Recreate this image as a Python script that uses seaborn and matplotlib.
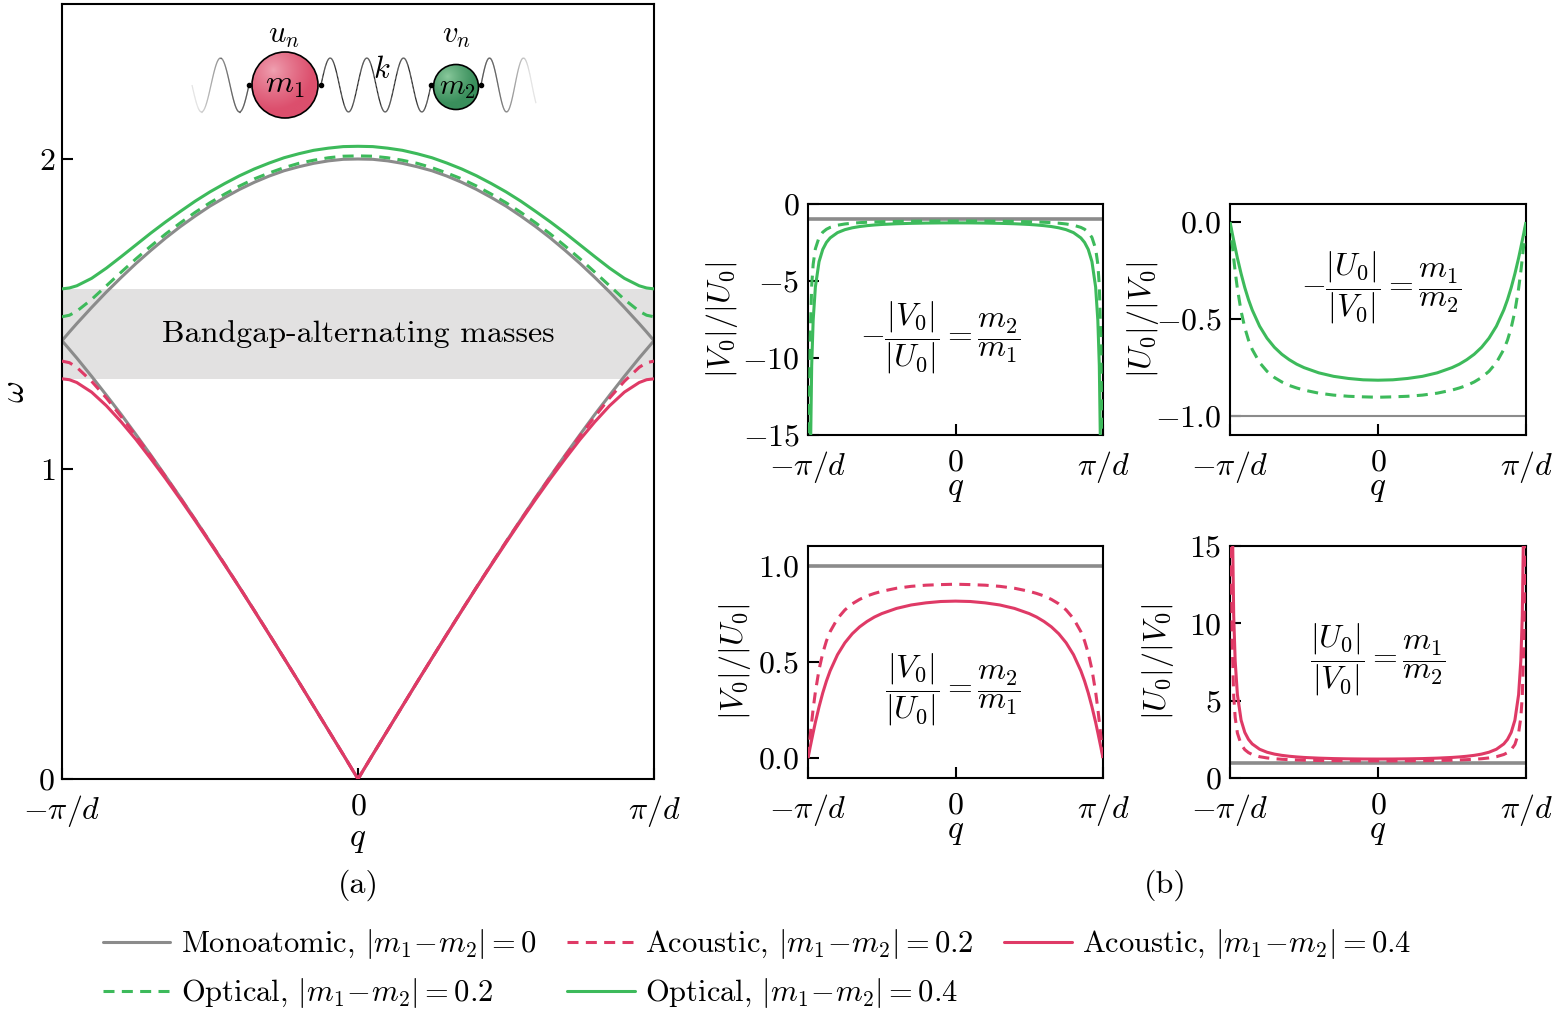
import numpy as np
import matplotlib
matplotlib.use("Agg")
import matplotlib.pyplot as plt
import seaborn as sns
from matplotlib.collections import LineCollection
from matplotlib.patches import Circle
from matplotlib.lines import Line2D
from matplotlib.colors import to_rgb

# ---------------- data ----------------
q_disp = [-1, -0.975, -0.95, -0.9, -0.85, -0.8, -0.75, -0.7, -0.65, -0.6, -0.55, -0.5,
          -0.45, -0.4, -0.35, -0.3, -0.25, -0.2, -0.15, -0.1, -0.05, 0, 0.05, 0.1, 0.15,
          0.2, 0.25, 0.3, 0.35, 0.4, 0.45, 0.5, 0.55, 0.6, 0.65, 0.7, 0.75, 0.8, 0.85,
          0.9, 0.95, 0.975, 1]
mono_ac = [1.414, 1.386, 1.358, 1.299, 1.238, 1.176, 1.111, 1.045, 0.977, 0.908, 0.837,
           0.765, 0.692, 0.618, 0.543, 0.467, 0.390, 0.313, 0.235, 0.157, 0.079, 0.0,
           0.079, 0.157, 0.235, 0.313, 0.390, 0.467, 0.543, 0.618, 0.692, 0.765, 0.837,
           0.908, 0.977, 1.045, 1.111, 1.176, 1.238, 1.299, 1.358, 1.386, 1.414]
mono_op = [1.414, 1.442, 1.469, 1.521, 1.571, 1.618, 1.663, 1.705, 1.745, 1.782, 1.816,
           1.848, 1.876, 1.902, 1.925, 1.945, 1.962, 1.975, 1.986, 1.994, 1.999, 2.000,
           1.999, 1.994, 1.986, 1.975, 1.962, 1.945, 1.925, 1.902, 1.876, 1.848, 1.816,
           1.782, 1.745, 1.705, 1.663, 1.618, 1.571, 1.521, 1.469, 1.442, 1.414]
ac_02 = [1.348, 1.343, 1.328, 1.283, 1.229, 1.169, 1.107, 1.042, 0.975, 0.906, 0.836,
         0.765, 0.692, 0.618, 0.543, 0.467, 0.390, 0.313, 0.235, 0.157, 0.079, 0.0,
         0.079, 0.157, 0.235, 0.313, 0.390, 0.467, 0.543, 0.618, 0.692, 0.765, 0.836,
         0.906, 0.975, 1.042, 1.107, 1.169, 1.229, 1.283, 1.328, 1.343, 1.348]
op_02 = [1.491, 1.496, 1.509, 1.547, 1.591, 1.635, 1.678, 1.719, 1.758, 1.794, 1.828,
         1.859, 1.887, 1.913, 1.936, 1.955, 1.972, 1.986, 1.996, 2.004, 2.009, 2.010,
         2.009, 2.004, 1.996, 1.986, 1.972, 1.955, 1.936, 1.913, 1.887, 1.859, 1.828,
         1.794, 1.758, 1.719, 1.678, 1.635, 1.591, 1.547, 1.509, 1.496, 1.491]
ac_04 = [1.291, 1.288, 1.279, 1.248, 1.204, 1.152, 1.095, 1.033, 0.969, 0.902, 0.833,
         0.762, 0.690, 0.617, 0.542, 0.466, 0.390, 0.313, 0.235, 0.157, 0.079, 0.0,
         0.079, 0.157, 0.235, 0.313, 0.390, 0.466, 0.542, 0.617, 0.690, 0.762, 0.833,
         0.902, 0.969, 1.033, 1.095, 1.152, 1.204, 1.248, 1.279, 1.288, 1.291]
op_04 = [1.581, 1.584, 1.591, 1.615, 1.648, 1.685, 1.723, 1.761, 1.797, 1.831, 1.864,
         1.894, 1.921, 1.946, 1.968, 1.987, 2.004, 2.017, 2.028, 2.035, 2.040, 2.041,
         2.040, 2.035, 2.028, 2.017, 2.004, 1.987, 1.968, 1.946, 1.921, 1.894, 1.864,
         1.831, 1.797, 1.761, 1.723, 1.685, 1.648, 1.615, 1.591, 1.584, 1.581]
gap_low, gap_high = 1.291, 1.581

# amplitude-ratio panels
q_v = [-1, -0.995, -0.99, -0.985, -0.975, -0.965, -0.95, -0.925, -0.9, -0.875, -0.85,
       -0.8, -0.75, -0.7, -0.65, -0.6, -0.55, -0.5, -0.4, -0.3, -0.2, -0.1, 0, 0.1, 0.2,
       0.3, 0.4, 0.5, 0.55, 0.6, 0.65, 0.7, 0.75, 0.8, 0.85, 0.875, 0.9, 0.925, 0.95,
       0.965, 0.975, 0.985, 0.99, 0.995, 1]
q_u = [-0.995, -0.99, -0.985, -0.975, -0.965, -0.95, -0.925, -0.9, -0.875, -0.85,
       -0.8, -0.75, -0.7, -0.65, -0.6, -0.55, -0.5, -0.4, -0.3, -0.2, -0.1, 0, 0.1, 0.2,
       0.3, 0.4, 0.5, 0.55, 0.6, 0.65, 0.7, 0.75, 0.8, 0.85, 0.875, 0.9, 0.925, 0.95,
       0.965, 0.975, 0.985, 0.99, 0.995]
q_flat = [-1, 1]

# bottom-left: acoustic |V0|/|U0|
bl_04 = [0.000, 0.019, 0.038, 0.058, 0.095, 0.132, 0.186, 0.267, 0.339, 0.401, 0.454,
         0.538, 0.600, 0.647, 0.683, 0.711, 0.734, 0.752, 0.779, 0.797, 0.808, 0.815,
         0.817,
         0.815, 0.808, 0.797, 0.779, 0.752, 0.734, 0.711, 0.683, 0.647, 0.600, 0.538,
         0.454, 0.401, 0.339, 0.267, 0.186, 0.132, 0.095, 0.058, 0.038, 0.019, 0.000]
bl_02 = [0.000, 0.039, 0.078, 0.116, 0.188, 0.256, 0.344, 0.461, 0.546, 0.610, 0.658,
         0.726, 0.771, 0.803, 0.826, 0.844, 0.857, 0.868, 0.884, 0.894, 0.900, 0.903,
         0.905,
         0.903, 0.900, 0.894, 0.884, 0.868, 0.857, 0.844, 0.826, 0.803, 0.771, 0.726,
         0.658, 0.610, 0.546, 0.461, 0.344, 0.256, 0.188, 0.116, 0.078, 0.039, 0.000]
bl_mono = [1.0, 1.0]
# top-right: optical |U0|/|V0|
tr_04 = [-0.000, -0.019, -0.038, -0.058, -0.095, -0.132, -0.186, -0.267, -0.339, -0.401, -0.454,
         -0.538, -0.600, -0.647, -0.683, -0.711, -0.734, -0.752, -0.779, -0.797, -0.808, -0.815,
         -0.817,
         -0.815, -0.808, -0.797, -0.779, -0.752, -0.734, -0.711, -0.683, -0.647, -0.600, -0.538,
         -0.454, -0.401, -0.339, -0.267, -0.186, -0.132, -0.095, -0.058, -0.038, -0.019, -0.000]
tr_02 = [-0.000, -0.039, -0.078, -0.116, -0.188, -0.256, -0.344, -0.461, -0.546, -0.610, -0.658,
         -0.726, -0.771, -0.803, -0.826, -0.844, -0.857, -0.868, -0.884, -0.894, -0.900, -0.903,
         -0.905,
         -0.903, -0.900, -0.894, -0.884, -0.868, -0.857, -0.844, -0.826, -0.803, -0.771, -0.726,
         -0.658, -0.610, -0.546, -0.461, -0.344, -0.256, -0.188, -0.116, -0.078, -0.039, -0.000]
tr_mono = [-1.0, -1.0]
# bottom-right: acoustic |U0|/|V0|
br_04 = [52.0, 26.0, 17.39, 10.49, 7.562, 5.388, 3.741, 2.949, 2.494, 2.203, 1.859, 1.667,
         1.546, 1.464, 1.406, 1.363, 1.329, 1.284, 1.255, 1.238, 1.228,
         1.225,
         1.228, 1.238, 1.255, 1.284, 1.329, 1.363, 1.406, 1.464, 1.546, 1.667, 1.859,
         2.203, 2.494, 2.949, 3.741, 5.388, 7.562, 10.49, 17.39, 26.0, 52.0]
br_02 = [25.6, 12.88, 8.649, 5.308, 3.914, 2.906, 2.171, 1.831, 1.640, 1.519, 1.377, 1.297,
         1.246, 1.211, 1.186, 1.167, 1.152, 1.132, 1.119, 1.111, 1.107,
         1.106,
         1.107, 1.111, 1.119, 1.132, 1.152, 1.167, 1.186, 1.211, 1.246, 1.297, 1.377,
         1.519, 1.640, 1.831, 2.171, 2.906, 3.914, 5.308, 8.649, 12.88, 25.6]
br_mono = [1.0, 1.0]
# top-left: optical |V0|/|U0|
tl_04 = [-52.0, -26.0, -17.39, -10.49, -7.562, -5.388, -3.741, -2.949, -2.494, -2.203, -1.859, -1.667,
         -1.546, -1.464, -1.406, -1.363, -1.329, -1.284, -1.255, -1.238, -1.228,
         -1.225,
         -1.228, -1.238, -1.255, -1.284, -1.329, -1.363, -1.406, -1.464, -1.546, -1.667, -1.859,
         -2.203, -2.494, -2.949, -3.741, -5.388, -7.562, -10.49, -17.39, -26.0, -52.0]
tl_02 = [-25.6, -12.88, -8.649, -5.308, -3.914, -2.906, -2.171, -1.831, -1.640, -1.519, -1.377, -1.297,
         -1.246, -1.211, -1.186, -1.167, -1.152, -1.132, -1.119, -1.111, -1.107,
         -1.106,
         -1.107, -1.111, -1.119, -1.132, -1.152, -1.167, -1.186, -1.211, -1.246, -1.297, -1.377,
         -1.519, -1.640, -1.831, -2.171, -2.906, -3.914, -5.308, -8.649, -12.88, -25.6]
tl_mono = [-1.0, -1.0]

q_ticks = [-1, 0, 1]
q_ticklabels = [r'$-\pi/d$', r'$0$', r'$\pi/d$']

# ---------------- style ----------------
sns.set_theme(style="white")
plt.rcParams.update({
    "font.family": ["cmr10", "DejaVu Serif"],
    "mathtext.fontset": "cm",
    "axes.unicode_minus": False,
    "axes.edgecolor": "black",
    "axes.linewidth": 1.5,
    "text.color": "black",
    "axes.labelcolor": "black",
    "xtick.color": "black",
    "ytick.color": "black",
    "axes.formatter.use_mathtext": True,
})

GREY = "#8b8b8b"
GREEN = "#3dba5b"
RED = "#df3a66"
GAPC = "#e2e1e1"
LW = 2.2
DASH = (3.6, 2.4)
FS = 23

W, H = 1558, 1022
fig = plt.figure(figsize=(W / 100, H / 100), dpi=100)


def rect(l, t, r, b):
    return [l / W, 1 - b / H, (r - l) / W, (b - t) / H]


def draw(ax, x, y, color, dashed=False, lw=LW, z=2):
    sns.lineplot(x=x, y=y, ax=ax, color=color, linewidth=lw, legend=False,
                 sort=False, estimator=None, zorder=z)
    ln = ax.lines[-1]
    if dashed:
        ln.set_dashes(DASH)
    ln.set_solid_capstyle("butt")
    ln.set_solid_joinstyle("round")


# ---------------- panel (a) ----------------
axA = fig.add_axes(rect(62, 4, 654, 779))
axA.axhspan(gap_low, gap_high, color=GAPC, lw=0, zorder=0)
draw(axA, q_disp, mono_ac, GREY, z=2)
draw(axA, q_disp, mono_op, GREY, z=2)
draw(axA, q_disp, op_02, GREEN, dashed=True, z=3)
draw(axA, q_disp, op_04, GREEN, z=4)
draw(axA, q_disp, ac_02, RED, dashed=True, z=3)
draw(axA, q_disp, ac_04, RED, z=4)
axA.text(0, (gap_low + gap_high) / 2, "Bandgap-alternating masses", ha="center",
         va="center", fontsize=FS, zorder=5)
axA.set_xlim(-1, 1)
axA.set_ylim(0, 2.5)
axA.set_xticks(q_ticks)
axA.set_xticklabels(q_ticklabels)
axA.set_yticks([0, 1, 2])
axA.set_yticklabels([r'$0$', r'$1$', r'$2$'])
axA.tick_params(direction="in", length=8, width=1.5, labelsize=FS, bottom=True, left=True,
                top=False, right=False)
axA.tick_params(axis="x", pad=10)
axA.tick_params(axis="y", pad=5)
axA.set_xlabel(r'$q$', fontsize=FS + 1)
axA.xaxis.set_label_coords(0.5, -0.079)
axA.xaxis.label.set_va("center")
axA.set_ylabel(r'$\omega$', fontsize=FS + 1)
axA.yaxis.set_label_coords(-0.079, 0.5)
axA.yaxis.label.set_va("center")
for s in axA.spines.values():
    s.set_linewidth(1.5)
    s.set_color("black")


# ---------------- panel (b) ----------------
def small(box, ylim, yticks, yticklabels, ylabel, ylabx, annot, axy, xlaby):
    ax = fig.add_axes(rect(*box))
    ax.set_xlim(-1, 1)
    ax.set_ylim(*ylim)
    ax.set_xticks(q_ticks)
    ax.set_xticklabels(q_ticklabels)
    ax.set_yticks(yticks)
    ax.set_yticklabels(yticklabels)
    ax.tick_params(direction="in", length=8, width=1.5, labelsize=FS, bottom=True, left=True,
                   top=False, right=False)
    ax.tick_params(axis="x", pad=10)
    ax.tick_params(axis="y", pad=6)
    ax.set_xlabel(r'$q$', fontsize=FS + 1)
    ax.xaxis.set_label_coords(0.5, xlaby)
    ax.xaxis.label.set_va("center")
    ax.set_ylabel(ylabel, fontsize=FS)
    ax.yaxis.set_label_coords(ylabx, 0.5)
    ax.yaxis.label.set_va("center")
    ax.text(axy[0], axy[1], annot, transform=ax.transAxes, ha="center", va="center",
            fontsize=FS)
    for s in ax.spines.values():
        s.set_linewidth(1.5)
        s.set_color("black")
    return ax


axTL = small((808, 204, 1103, 435), (-15, 0), [0, -5, -10, -15],
             [r'$0$', r'$-5$', r'$-10$', r'$-15$'], r'$|V_0|/|U_0|$', -0.29,
             r'$-\dfrac{|V_0|}{|U_0|}=\dfrac{m_2}{m_1}$', (0.45, 0.42), -0.238)
draw(axTL, q_flat, tl_mono, GREY, lw=2.6)
draw(axTL, q_u, tl_02, GREEN, dashed=True, z=3)
draw(axTL, q_u, tl_04, GREEN, z=4)

axTR = small((1230, 204, 1526, 435), (-1.1, 0.093), [0, -0.5, -1.0],
             [r'$0.0$', r'$-0.5$', r'$-1.0$'], r'$|U_0|/|V_0|$', -0.294,
             r'$-\dfrac{|U_0|}{|V_0|}=\dfrac{m_1}{m_2}$', (0.51, 0.64), -0.238)
draw(axTR, q_flat, tr_mono, GREY, lw=1.5)
draw(axTR, q_v, tr_02, GREEN, dashed=True, z=3)
draw(axTR, q_v, tr_04, GREEN, z=4)

axBL = small((808, 546, 1103, 778), (-0.104, 1.104), [0, 0.5, 1.0],
             [r'$0.0$', r'$0.5$', r'$1.0$'], r'$|V_0|/|U_0|$', -0.247,
             r'$\dfrac{|V_0|}{|U_0|}=\dfrac{m_2}{m_1}$', (0.49, 0.38), -0.233)
draw(axBL, q_flat, bl_mono, GREY, lw=2.6)
draw(axBL, q_v, bl_02, RED, dashed=True, z=3)
draw(axBL, q_v, bl_04, RED, z=4)

axBR = small((1230, 546, 1526, 778), (0, 15), [0, 5, 10, 15],
             [r'$0$', r'$5$', r'$10$', r'$15$'], r'$|U_0|/|V_0|$', -0.243,
             r'$\dfrac{|U_0|}{|V_0|}=\dfrac{m_1}{m_2}$', (0.5, 0.51), -0.233)
draw(axBR, q_flat, br_mono, GREY, lw=2.6)
draw(axBR, q_u, br_02, RED, dashed=True, z=3)
draw(axBR, q_u, br_04, RED, z=4)

fig.text(358 / W, 1 - 885 / H, "(a)", ha="center", va="center", fontsize=FS)
fig.text(1165 / W, 1 - 885 / H, "(b)", ha="center", va="center", fontsize=FS)

# ---------------- legend ----------------
h_mono = Line2D([], [], color=GREY, lw=LW)
h_ac2 = Line2D([], [], color=RED, lw=LW, dashes=DASH)
h_ac4 = Line2D([], [], color=RED, lw=LW)
h_op2 = Line2D([], [], color=GREEN, lw=LW, dashes=DASH)
h_op4 = Line2D([], [], color=GREEN, lw=LW)
lab_mono = r'Monoatomic, $|m_1\!-\!m_2|=0$'
lab_ac2 = r'Acoustic, $|m_1\!-\!m_2|=0.2$'
lab_ac4 = r'Acoustic, $|m_1\!-\!m_2|=0.4$'
lab_op2 = r'Optical, $|m_1\!-\!m_2|=0.2$'
lab_op4 = r'Optical, $|m_1\!-\!m_2|=0.4$'
fig.legend([h_mono, h_op2, h_ac2, h_op4, h_ac4],
           [lab_mono, lab_op2, lab_ac2, lab_op4, lab_ac4],
           loc="center", bbox_to_anchor=(0.486, 0.052), ncol=3, frameon=False,
           fontsize=22, handlelength=2.2, handletextpad=0.35, columnspacing=1.0,
           labelspacing=0.5, borderpad=0.0)

# ---------------- chain schematic (illustration) ----------------
sk = fig.add_axes([0, 0, 1, 1], zorder=10)
sk.patch.set_alpha(0)
sk.axis("off")


def spring(x0, x1, period, sign, fade=None):
    xs = np.linspace(x0, x1, 400)
    ys = 85 - sign * 27 * np.sin(2 * np.pi * (xs - x0) / period)
    if fade == "left":
        al = np.clip((xs - x0) / 45.0, 0.12, 1.0)
    elif fade == "right":
        al = np.clip((x1 - xs) / 45.0, 0.12, 1.0)
    else:
        al = np.ones_like(xs)
    pts = np.column_stack([xs, ys])
    segs = np.stack([pts[:-1], pts[1:]], axis=1)
    cols = [(0.15, 0.15, 0.15, a) for a in al[:-1]]
    sk.add_collection(LineCollection(segs, colors=cols, linewidths=0.9, zorder=2))


spring(192, 249, -38, 1, fade="left")
spring(321, 431, 110 / 3, 1)
spring(481, 536, 34, 1, fade="right")


def ball(cx, cy, r, base, light):
    n = 200
    g = np.linspace(-1, 1, n)
    X, Y = np.meshgrid(g, g)
    d = np.clip(np.sqrt((X + 0.35) ** 2 + (Y + 0.45) ** 2) / 1.2, 0, 1) ** 0.8
    b = np.array(to_rgb(base))
    l = np.array(to_rgb(light))
    img = l[None, None, :] * (1 - d[..., None]) + b[None, None, :] * d[..., None]
    im = sk.imshow(img, extent=(cx - r, cx + r, cy + r, cy - r), zorder=3,
                   interpolation="bilinear", aspect="auto")
    c = Circle((cx, cy), r, facecolor="none", edgecolor="black", lw=1.2, zorder=4)
    sk.add_patch(c)
    im.set_clip_path(c)


ball(285, 85, 33, "#dc4f6d", "#f0a3b3")
ball(456, 87, 22.5, "#3a8f5c", "#8ccb9e")
for xd in (249, 321, 431, 481):
    sk.plot([xd], [85], "o", color="black", ms=3, zorder=5)
sk.text(285, 86, r'$m_1$', ha="center", va="center", fontsize=23, zorder=6)
sk.text(457, 88, r'$m_2$', ha="center", va="center", fontsize=21, zorder=6)
sk.text(284, 36, r'$u_n$', ha="center", va="center", fontsize=22, zorder=6)
sk.text(457, 36, r'$v_n$', ha="center", va="center", fontsize=22, zorder=6)
sk.text(382, 70, r'$k$', ha="center", va="center", fontsize=22, zorder=6)
sk.set_xlim(0, W)
sk.set_ylim(H, 0)

fig.savefig("out.png", dpi=100)
